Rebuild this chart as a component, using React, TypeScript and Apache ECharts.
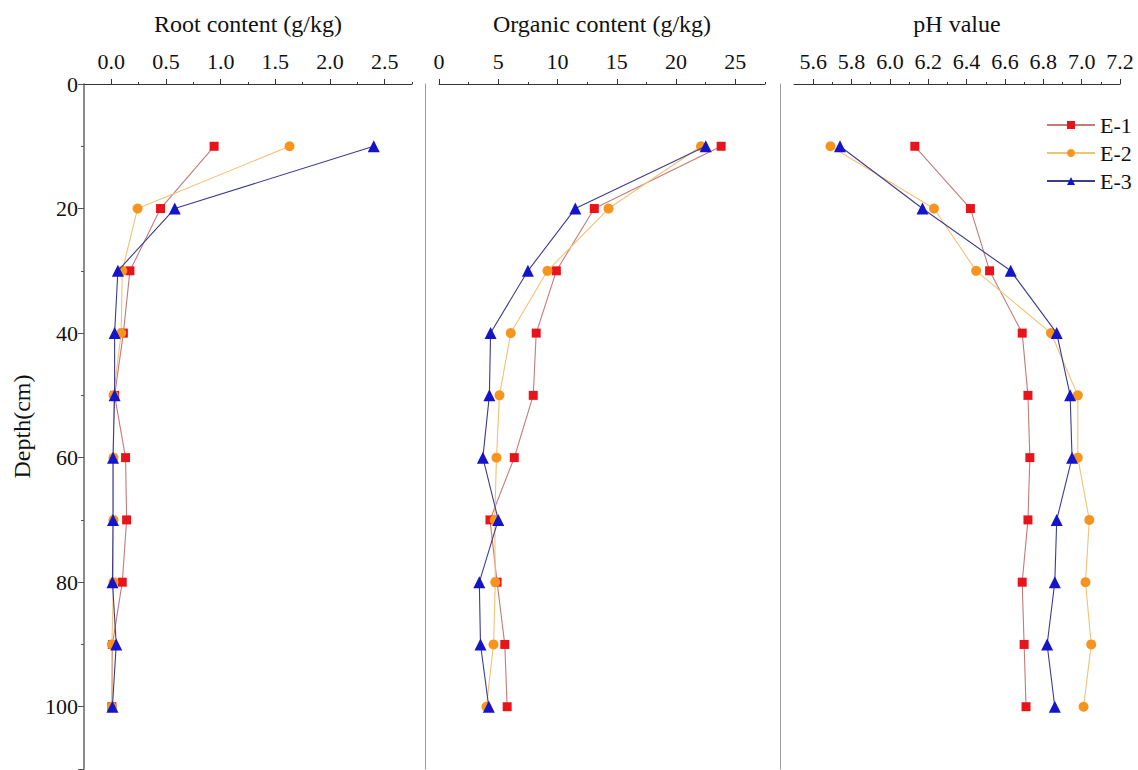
import React, { useEffect, useRef } from "react";
import * as echarts from "echarts";

const depths = [10, 20, 30, 40, 50, 60, 70, 80, 90, 100];
const seriesNames = ["E-1", "E-2", "E-3"];

const rootE1 = [0.94, 0.45, 0.17, 0.11, 0.03, 0.13, 0.14, 0.10, 0.01, 0.005];
const rootE2 = [1.63, 0.24, 0.10, 0.09, 0.02, 0.02, 0.02, 0.02, 0.005, 0.005];
const rootE3 = [2.40, 0.58, 0.06, 0.03, 0.03, 0.015, 0.015, 0.01, 0.045, 0.01];

const orgE1 = [23.8, 13.1, 9.9, 8.2, 7.95, 6.35, 4.3, 4.9, 5.55, 5.75];
const orgE2 = [22.1, 14.3, 9.15, 6.05, 5.1, 4.85, 4.7, 4.75, 4.6, 4.0];
const orgE3 = [22.5, 11.5, 7.5, 4.35, 4.25, 3.7, 5.0, 3.4, 3.5, 4.2];

const phE1 = [6.13, 6.42, 6.52, 6.69, 6.72, 6.73, 6.72, 6.69, 6.70, 6.71];
const phE2 = [5.69, 6.23, 6.45, 6.84, 6.98, 6.98, 7.04, 7.02, 7.05, 7.01];
const phE3 = [5.74, 6.17, 6.63, 6.87, 6.94, 6.95, 6.87, 6.86, 6.82, 6.86];

const depthTicks = [0, 20, 40, 60, 80, 100];

const rootMajor = [0, 0.5, 1.0, 1.5, 2.0, 2.5];
const rootMinor = [0.25, 0.75, 1.25, 1.75, 2.25, 2.75];
const orgMajor = [0, 5, 10, 15, 20, 25];
const orgMinor = [2.5, 7.5, 12.5, 17.5, 22.5, 27.5];
const phMajor = [5.6, 5.8, 6.0, 6.2, 6.4, 6.6, 6.8, 7.0, 7.2];
const phMinor = [5.7, 5.9, 6.1, 6.3, 6.5, 6.7, 6.9, 7.1];

const titles = ["Root content (g/kg)", "Organic content (g/kg)", "pH value"];
const ranges = [
  [-0.25, 2.75],
  [0, 27.5],
  [5.5, 7.2],
];
const decimals = [1, 0, 1];

const FONT = "Liberation Serif";
const lineColors = ["#c47a7a", "#f2c275", "#3c3c8c"];
const markerColors = ["#e8141b", "#f7941d", "#1414c8"];
const symbols = ["rect", "circle", "triangle"];
const symbolSizes = [9, 10, 12];

export default function App() {
  const ref = useRef<HTMLDivElement>(null);

  useEffect(() => {
    if (!ref.current) return;
    const chart = echarts.init(ref.current, null, { renderer: "svg" });

    const gridRects = [
      { left: 84, width: 328 },
      { left: 439, width: 326 },
      { left: 794, width: 326 },
    ];
    const top = 84;
    const height = 685;

    const grids: any[] = [];
    gridRects.forEach((g) => grids.push({ left: g.left, width: g.width, top, height, containLabel: false }));
    gridRects.forEach((g) => grids.push({ left: g.left, width: g.width, top, height, containLabel: false }));

    const majors = [rootMajor, orgMajor, phMajor];
    const minors = [rootMinor, orgMinor, phMinor];

    const xAxes: any[] = [];
    for (let i = 0; i < 3; i++) {
      xAxes.push({
        type: "value",
        gridIndex: i,
        position: "top",
        min: ranges[i][0],
        max: ranges[i][1],
        name: titles[i],
        nameLocation: "middle",
        nameGap: 48,
        nameTextStyle: { fontFamily: FONT, fontSize: 24, color: "#111" },
        axisLine: { show: true, onZero: false, lineStyle: { color: "#333", width: 1 } },
        axisTick: { show: true, inside: false, length: 5, customValues: majors[i], lineStyle: { color: "#333" } },
        axisLabel: {
          show: true,
          customValues: majors[i],
          margin: 12,
          fontFamily: FONT,
          fontSize: 22,
          color: "#111",
          formatter: (v: number) => v.toFixed(decimals[i]),
        },
        splitLine: { show: false },
      });
    }
    for (let i = 0; i < 3; i++) {
      xAxes.push({
        type: "value",
        gridIndex: 3 + i,
        position: "top",
        min: ranges[i][0],
        max: ranges[i][1],
        axisLine: { show: false, onZero: false },
        axisTick: { show: true, inside: false, length: 2, customValues: minors[i], lineStyle: { color: "#333" } },
        axisLabel: { show: false },
        splitLine: { show: false },
      });
    }

    const yAxes: any[] = [
      {
        type: "value",
        gridIndex: 0,
        inverse: true,
        min: 0,
        max: 110,
        interval: 20,
        name: "Depth(cm)",
        nameLocation: "middle",
        nameGap: 50,
        nameTextStyle: { fontFamily: FONT, fontSize: 24, color: "#111" },
        axisLine: { show: true, onZero: false, lineStyle: { color: "#666", width: 1.5 } },
        axisTick: { show: true, length: 6, lineStyle: { color: "#555" } },
        minorTick: { show: true, splitNumber: 2, length: 3, lineStyle: { color: "#555" } },
        axisLabel: {
          fontFamily: FONT,
          fontSize: 22,
          color: "#111",
          margin: 6,
          customValues: depthTicks,
        },
        splitLine: { show: false },
        minorSplitLine: { show: false },
      },
    ];
    for (let i = 1; i < 3; i++) {
      yAxes.push({
        type: "value",
        gridIndex: i,
        inverse: true,
        min: 0,
        max: 110,
        interval: 20,
        offset: 14,
        axisLine: { show: true, onZero: false, lineStyle: { color: "#999", width: 1 } },
        axisTick: { show: false },
        axisLabel: { show: false },
        splitLine: { show: false },
      });
    }
    for (let i = 0; i < 3; i++) {
      yAxes.push({
        type: "value",
        gridIndex: 3 + i,
        inverse: true,
        min: 0,
        max: 110,
        show: false,
      });
    }

    const panelData = [
      [rootE1, rootE2, rootE3],
      [orgE1, orgE2, orgE3],
      [phE1, phE2, phE3],
    ];

    const series: any[] = [];
    for (let p = 0; p < 3; p++) {
      for (let s = 0; s < 3; s++) {
        series.push({
          type: "line",
          name: seriesNames[s],
          xAxisIndex: p,
          yAxisIndex: p,
          data: panelData[p][s].map((v, k) => [v, depths[k]]),
          symbol: symbols[s],
          symbolSize: symbolSizes[s],
          showAllSymbol: true,
          itemStyle: { color: markerColors[s] },
          lineStyle: { color: lineColors[s], width: 1.1 },
          emphasis: { disabled: true },
          z: 2 + s,
        });
      }
    }

    chart.setOption({
      animation: false,
      backgroundColor: "#ffffff",
      grid: grids,
      xAxis: xAxes,
      yAxis: yAxes,
      legend: {
        data: seriesNames,
        orient: "vertical",
        left: 1046,
        top: 114,
        itemWidth: 48,
        itemHeight: 10,
        itemGap: 6,
        padding: 0,
        textStyle: { fontFamily: FONT, fontSize: 22, color: "#111" },
        selectedMode: false,
      },
      series,
    });

    return () => chart.dispose();
  }, []);

  return (
    <div
      ref={ref}
      style={{ position: "fixed", left: 0, top: 0, width: 1138, height: 770, background: "#fff" }}
    />
  );
}
